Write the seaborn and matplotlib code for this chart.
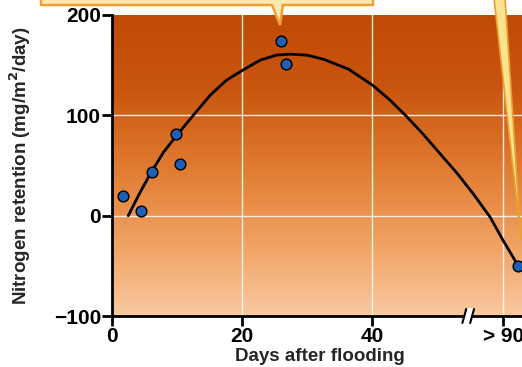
# -*- coding: utf-8 -*-
"""
Nitrogen retention after flooding: measured points plus the fitted curve.
"""
import numpy as np
import pandas as pd
import matplotlib.pyplot as plt
import seaborn as sns
from matplotlib.colors import LinearSegmentedColormap
from matplotlib.patches import Polygon

# --- Data ---
# x position 62.5 is the "> 90 days" point on the broken axis
days = [1.7, 4.5, 6.2, 9.8, 10.5, 26.0, 26.8, 62.5]
retention = [20, 5, 44, 81, 51, 174, 151, -50]

# fitted curve, sampled along the drawn line
curve_days = [2.5, 4.3, 6.1, 7.9, 9.95, 12.5, 15.1, 17.6, 20.1, 22.8, 25.3, 27.4,
              30.0, 32.5, 36.4, 40.1, 42.8, 45.3, 47.9, 50.5, 53.0, 55.6, 58.2,
              60.2, 62.5]
curve_retention = [0, 23, 44, 63, 80, 100, 120, 135, 145, 155, 160, 161,
                   160, 156, 146, 130, 115, 99, 81, 61.5, 43, 21.6, -1.7,
                   -25, -50]

x_ticks = [0, 20, 40, 60.2]
x_tick_labels = ["0", "20", "40", "> 90"]
y_ticks = [-100, 0, 100, 200]


def make_plot():
    sns.set_theme(style="ticks")
    plt.rcParams["font.family"] = ["Liberation Sans", "DejaVu Sans"]
    plt.rcParams["font.weight"] = "bold"

    fig = plt.figure(figsize=(5.22, 3.67), dpi=100)
    ax = fig.add_axes([112 / 522, 51 / 367, 410 / 522, 301 / 367])

    xmax = 410 / 6.5
    ax.set_xlim(0, xmax)
    ax.set_ylim(-100, 200)

    # orange gradient background (dark at top, peach at bottom)
    cmap = LinearSegmentedColormap.from_list(
        "bg", ["#f9c9a0", "#f0a060", "#e07a30", "#c9560f", "#c04a08"])
    grad = np.linspace(0, 1, 256).reshape(-1, 1)
    ax.imshow(grad, cmap=cmap, origin="lower", aspect="auto",
              extent=[0, xmax, -100, 200], zorder=0)

    # grid lines
    for gx in x_ticks[1:]:
        ax.axvline(gx, color="white", lw=1.0, alpha=0.85, zorder=1)
    for gy in [0, 100]:
        ax.axhline(gy, color="white", lw=1.0, alpha=0.85, zorder=1)

    curve = pd.DataFrame({"days": curve_days, "ret": curve_retention})
    sns.lineplot(data=curve, x="days", y="ret", color="black", lw=2.0,
                 sort=False, ax=ax, zorder=3, solid_joinstyle="round")

    pts = pd.DataFrame({"days": days, "ret": retention})
    sns.scatterplot(data=pts, x="days", y="ret", color="#1f5fb4", edgecolor="black",
                    linewidth=1.0, s=60, ax=ax, zorder=4, clip_on=False)

    # axes styling
    for side in ["top", "right"]:
        ax.spines[side].set_visible(False)
    for side in ["left", "bottom"]:
        ax.spines[side].set_linewidth(2)
        ax.spines[side].set_color("black")
    ax.set_xticks(x_ticks)
    ax.set_xticklabels(x_tick_labels)
    ax.set_yticks(y_ticks)
    ax.tick_params(axis="both", direction="out", length=7, width=2,
                   labelsize=15, colors="black", pad=1)
    for lab in ax.get_xticklabels() + ax.get_yticklabels():
        lab.set_fontweight("bold")

    ax.set_xlabel("Days after flooding", fontsize=13.5, fontweight="bold")
    ax.xaxis.set_label_coords((320 - 112) / 410, -0.105)
    ax.set_ylabel("Nitrogen retention (mg/m$^\\mathbf{2}$/day)",
                  fontsize=13.5, fontweight="bold")
    ax.yaxis.set_label_coords(-(112 - 33) / 410, 0.5)

    # axis break marks
    ax.fill([53.9, 55.1, 55.7, 54.5], [-107, -107, -93, -93], color="white",
            clip_on=False, zorder=5)
    for bx in [53.9, 55.1]:
        ax.plot([bx, bx + 0.6], [-107, -93], color="black", lw=1.5,
                clip_on=False, zorder=6)

    # callout box at top, and the pointer on the right
    W, H = 522, 367
    box = [(41, -10), (373, -10), (373, 5), (283, 5), (280, 25), (272, 5), (41, 5)]
    fig.patches.append(Polygon([(x / W, 1 - y / H) for x, y in box],
                               closed=True, transform=fig.transFigure,
                               facecolor="#fde9b0", edgecolor="#eea035", lw=1.8,
                               zorder=10))
    wedge = [(494, -2), (505, -2), (521, 240)]
    fig.patches.append(Polygon([(x / W, 1 - y / H) for x, y in wedge],
                               closed=True, transform=fig.transFigure,
                               facecolor="#fbe28c", edgecolor="#e8a030", lw=1.2,
                               zorder=10))

    fig.savefig("out.png", dpi=100)
    plt.close(fig)


if __name__ == "__main__":
    make_plot()
